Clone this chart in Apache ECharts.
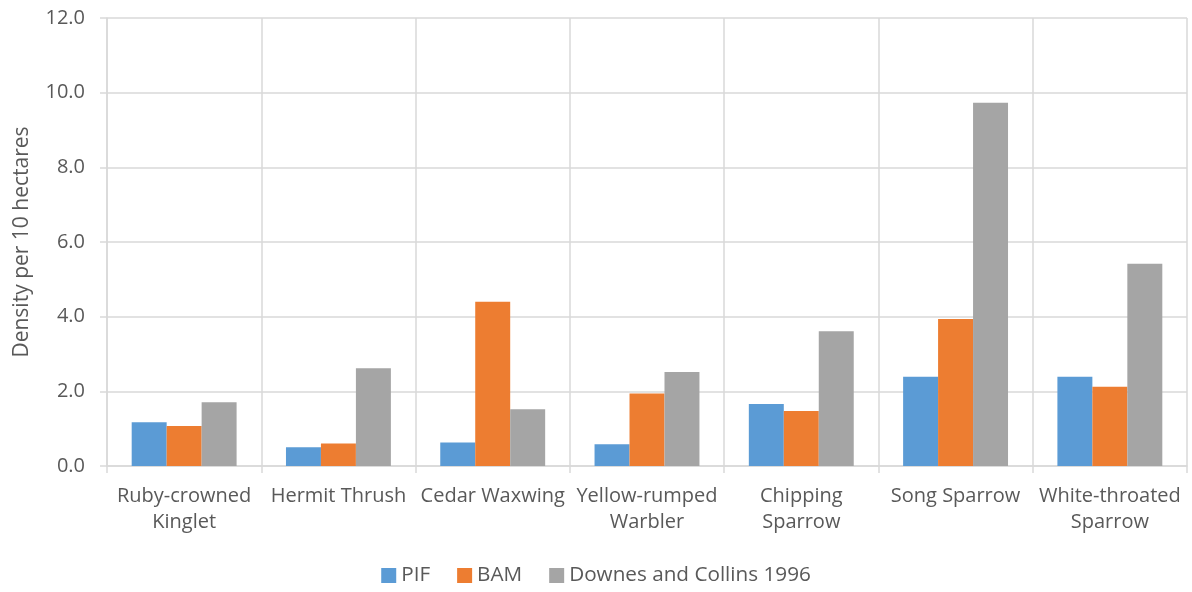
<!DOCTYPE html>
<html><head><meta charset="utf-8">
<script src="https://cdn.jsdelivr.net/npm/echarts@6/dist/echarts.min.js"></script>
<style>html,body{margin:0;padding:0;background:#fff}#c{width:1192px;height:592px}</style>
</head><body><div id="c"></div>
<script>
const categories = ["Ruby-crowned\nKinglet","Hermit Thrush","Cedar Waxwing","Yellow-rumped\nWarbler","Chipping\nSparrow","Song Sparrow","White-throated\nSparrow"];
const pif = [1.17, 0.50, 0.63, 0.58, 1.66, 2.39, 2.39];
const bam = [1.07, 0.60, 4.40, 1.94, 1.47, 3.94, 2.12];
const downes = [1.71, 2.62, 1.52, 2.52, 3.61, 9.73, 5.42];
const seriesNames = ["PIF","BAM","Downes and Collins 1996"];
const yTicks = {min:0, max:12, interval:2};
const font = "'Open Sans', sans-serif";
const chart = echarts.init(document.getElementById('c'));
chart.setOption({
  animation:false,
  color:['#5b9bd5','#ed7d31','#a5a5a5'],
  grid:{left:107,right:5,top:18,bottom:126},
  legend:{bottom:1,left:'center',itemWidth:15,itemHeight:15,itemGap:27,icon:'rect',
    textStyle:{color:'#595959',fontSize:20.7,fontFamily:font},data:seriesNames},
  xAxis:{type:'category',data:categories,
    axisLine:{lineStyle:{color:'#d9d9d9',width:1.5}},
    axisTick:{show:true,length:7,lineStyle:{color:'#d9d9d9',width:1.5}},
    splitLine:{show:true,lineStyle:{color:'#d9d9d9',width:1.5}},
    axisLabel:{color:'#595959',fontSize:20,fontFamily:font,lineHeight:26,margin:17,interval:0}},
  yAxis:{type:'value',min:yTicks.min,max:yTicks.max,interval:yTicks.interval,
    name:'Density per 10 hectares',nameLocation:'middle',nameGap:74,nameRotate:90,
    nameTextStyle:{color:'#595959',fontSize:21,fontFamily:font},
    axisLine:{show:true,lineStyle:{color:'#d9d9d9',width:1.5}},
    axisTick:{show:true,length:7,lineStyle:{color:'#d9d9d9',width:1.5}},
    splitLine:{show:true,lineStyle:{color:'#d9d9d9',width:1.5}},
    axisLabel:{color:'#595959',fontSize:20,fontFamily:font,margin:22,formatter:v=>v.toFixed(1)}},
  series:[
    {name:seriesNames[0],type:'bar',data:pif,barGap:'0%',barCategoryGap:'32%'},
    {name:seriesNames[1],type:'bar',data:bam,barGap:'0%',barCategoryGap:'32%'},
    {name:seriesNames[2],type:'bar',data:downes,barGap:'0%',barCategoryGap:'32%'}
  ]
});
</script></body></html>
